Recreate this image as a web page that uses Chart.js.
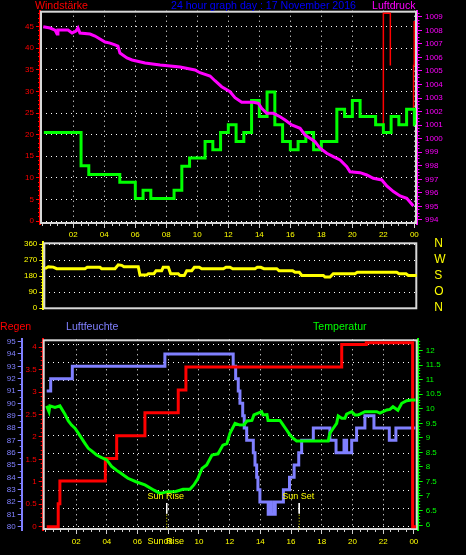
<!DOCTYPE html>
<html>
<head>
<meta charset="utf-8">
<script src="https://cdn.jsdelivr.net/npm/chart.js@4.4.0/dist/chart.umd.min.js"></script>
<style>
html, body { margin: 0; padding: 0; background: #000; }
body { width: 466px; height: 555px; position: relative; overflow: hidden; font-family: "Liberation Sans", Arial, sans-serif; }
canvas { position: absolute; left: 0; }
.t { position: absolute; font-size: 10.6px; line-height: 12px; white-space: nowrap; z-index: 5; }
</style>
</head>
<body>
<canvas id="c1" width="466" height="240" style="top:0"></canvas>
<canvas id="c2" width="466" height="90" style="top:232px"></canvas>
<canvas id="c3" width="466" height="235" style="top:320px"></canvas>

<div class="t" style="left:35px;top:-1px;color:#ff0000">Windstärke</div>
<div class="t" style="left:171px;top:-1px;color:#0000ff">24 hour graph day : 17 November 2016</div>
<div class="t" style="left:372px;top:-1px;color:#ff00ff">Luftdruck</div>
<div class="t" style="left:0;top:320px;color:#ff0000">Regen</div>
<div class="t" style="left:66px;top:320px;color:#8080ff">Luftfeuchte</div>
<div class="t" style="left:313px;top:320px;color:#00ff00">Temperatur</div>

<script>
// hours since midnight, 24 = following midnight
const HOURS = [2, 4, 6, 8, 10, 12, 14, 16, 18, 20, 22, 24];
const HOUR_LABELS = ['02', '04', '06', '08', '10', '12', '14', '16', '18', '20', '22', '00'];

// wind speed (km/h), half-hour means, step changes
const WIND_H = [0.1, 2.5, 3, 5, 6, 6.5, 7, 8.5, 9, 9.5, 10.5, 11, 11.5, 12, 12.5, 13, 13.5, 14, 14.5, 15, 15.5, 16, 16.5, 17, 17.5, 18, 19, 19.5, 20, 20.5, 21.5, 22, 22.5, 23, 23.5, 24, 24.05];
const WIND_V = [20.5, 12.8, 10.8, 9.0, 5.2, 7.1, 5.2, 7.1, 12.7, 14.6, 18.4, 16.5, 20.5, 22.3, 18.4, 20.5, 27.9, 24.2, 29.9, 22.3, 18.4, 16.5, 18.4, 20.5, 16.5, 18.4, 25.9, 24.2, 27.9, 24.2, 22.3, 20.5, 24.2, 22.3, 25.9, 22.3, 22.3];

// gust peaks (km/h)
const GUST_H = [22.0, 22.0, 22.45, 22.45, 22.46, 23.95, 23.95, 23.99, 23.99];
const GUST_V = [22.2, 48.1, 48.1, 36, null, 26, 36, 36, 46.3];

// air pressure (hPa)
const PRESS_H = [0.06, 0.5, 0.82, 0.95, 1.01, 1.66, 1.92, 2.17, 2.3, 2.43, 3.08, 3.4, 3.72, 4.05, 4.37, 4.69, 4.88, 5.01, 5.46, 5.79, 6.63, 7.6, 8.89, 9.85, 10.17, 10.82, 11.14, 11.57, 12.11, 12.43, 12.86, 13.61, 13.94, 14.15, 14.48, 14.9, 15.34, 15.66, 16.09, 16.63, 16.95, 17.27, 17.59, 17.92, 18.35, 18.77, 19.21, 19.64, 19.85, 20.5, 20.93, 21.35, 21.9, 22.22, 22.65, 23.08, 23.51, 23.94];
const PRESS_V = [1008.27, 1008.17, 1008.02, 1007.73, 1008.02, 1008.02, 1007.8, 1007.95, 1008.17, 1007.8, 1007.73, 1007.58, 1007.36, 1007.14, 1007.06, 1006.92, 1006.84, 1006.32, 1005.96, 1005.81, 1005.59, 1005.44, 1005.29, 1005.07, 1004.87, 1004.63, 1004.28, 1003.84, 1003.47, 1003.03, 1002.69, 1002.69, 1002.61, 1002.24, 1001.87, 1001.87, 1001.62, 1001.38, 1001.01, 1000.77, 1000.27, 1000.03, 999.78, 999.29, 998.92, 998.67, 998.43, 997.93, 997.56, 997.49, 997.32, 997.08, 996.95, 996.51, 996.09, 995.77, 995.6, 995.03];

// wind direction (degrees)
const DIR_H = [0.17, 0.39, 0.71, 0.93, 2.75, 2.9, 3.72, 3.83, 4.69, 4.9, 5.12, 5.27, 6.19, 6.3, 6.73, 6.84, 7.2, 7.34, 7.7, 7.8, 8.13, 8.28, 8.77, 8.88, 9.16, 9.32, 9.64, 9.81, 10.13, 10.28, 11.68, 11.85, 12.11, 12.28, 13.72, 13.87, 14.09, 14.3, 15.12, 15.27, 16.15, 16.3, 16.58, 16.74, 18.13, 18.24, 18.56, 18.77, 20.17, 20.32, 22.86, 23.01, 23.46, 23.61, 24.15];
const DIR_V = [221, 232, 230, 221, 221, 229, 229, 221, 221, 243, 240, 232, 232, 185, 185, 193, 193, 210, 210, 229, 229, 193, 193, 183, 183, 210, 210, 229, 229, 221, 221, 229, 229, 221, 221, 229, 229, 221, 221, 210, 210, 201, 201, 183, 183, 174, 174, 193, 193, 201, 201, 193, 193, 183, 183];

// rain (mm), step changes
const RAIN_H = [0.08, 0.83, 0.94, 3.9, 4.64, 6.48, 8.65, 9.15, 19.3, 20.9, 23.92, 24.15];
const RAIN_V = [0, 0.51, 1.02, 1.52, 2.03, 2.54, 3.05, 3.56, 4.06, 4.1, 0, 0];

// humidity (%), step changes
const HUM_H = [0.08, 0.34, 1.75, 7.78, 12.23, 12.39, 12.56, 12.67, 12.85, 12.95, 13.11, 13.54, 13.65, 13.76, 13.84, 13.97, 14.51, 14.6, 14.66, 14.86, 14.9, 14.97, 15.5, 15.9, 16.2, 16.5, 16.69, 17.45, 18.53, 18.93, 19.45, 19.62, 19.95, 20.27, 20.81, 21.4, 22.4, 22.83, 24.1];
const HUM_V = [91, 92, 93, 94, 93, 92, 91, 90, 89, 88, 87, 86, 85, 84, 83, 82, 81, 82, 81, 82, 81, 82, 83, 84, 85, 86, 87, 88, 87, 86, 87, 86, 87, 88, 89, 88, 87, 88, 88];

// temperature (°C)
const TEMP_H = [0.08, 0.23, 0.29, 0.62, 0.94, 1.27, 1.49, 1.7, 1.92, 2.14, 2.36, 2.57, 2.79, 3.01, 3.33, 3.66, 3.99, 4.31, 4.64, 4.92, 5.37, 5.9, 6.48, 7.07, 7.46, 7.98, 8.44, 8.96, 9.41, 9.67, 9.93, 10.2, 10.5, 10.85, 11.24, 11.56, 11.82, 12.02, 12.35, 12.67, 12.93, 13.13, 13.45, 13.58, 14.08, 14.17, 14.43, 14.5, 15.28, 15.49, 15.71, 15.93, 16.14, 16.36, 18.42, 18.53, 18.75, 18.97, 19.07, 19.3, 19.51, 19.62, 19.95, 20.16, 20.36, 20.49, 20.81, 21.58, 21.79, 22.23, 22.44, 22.64, 22.96, 23.21, 23.53, 23.86, 24.12];
const TEMP_V = [10.1, 9.9, 10.1, 10.05, 10.1, 9.81, 9.58, 9.44, 9.33, 9.16, 8.98, 8.81, 8.64, 8.55, 8.41, 8.32, 8.24, 8.02, 7.88, 7.78, 7.61, 7.49, 7.38, 7.2, 7.09, 7.15, 7.15, 7.23, 7.23, 7.38, 7.6, 7.95, 8.07, 8.41, 8.45, 8.75, 8.8, 9.16, 9.5, 9.44, 9.45, 9.58, 9.6, 9.79, 9.9, 9.79, 9.8, 9.6, 9.6, 9.44, 9.27, 9.1, 8.98, 8.89, 8.89, 9.16, 9.33, 9.5, 9.75, 9.67, 9.67, 9.82, 9.9, 9.79, 9.79, 9.82, 9.9, 9.9, 9.85, 9.96, 9.98, 10.07, 9.95, 10.19, 10.28, 10.3, 10.3];

const SUN_H = [7.9, 16.53];
const SUN_LABELS = ['Sun Rise', 'Sun Set'];

// axis ticks
const WIND_TICKS = [0, 5, 10, 15, 20, 25, 30, 35, 40, 45];
const PRESS_TICKS = [994, 995, 996, 997, 998, 999, 1000, 1001, 1002, 1003, 1004, 1005, 1006, 1007, 1008, 1009];
const DIR_TICKS = [0, 90, 180, 270, 360];
const DIR_LABELS = ['N', 'O', 'S', 'W', 'N'];
const RAIN_TICKS = [0, 0.5, 1, 1.5, 2, 2.5, 3, 3.5, 4];
const HUM_TICKS = [80, 81, 82, 83, 84, 85, 86, 87, 88, 89, 90, 91, 92, 93, 94, 95];
const TEMP_TICKS = [6, 6.5, 7, 7.5, 8, 8.5, 9, 9.5, 10, 10.5, 11, 11.5, 12];
const GRID_TICKS = [0, 1, 2, 3, 4, 5, 6, 7, 8, 9, 10];

const FONT = { family: '"Liberation Sans", Arial, sans-serif', size: 8 };
const steps = (a, b, s) => { const r = []; for (let v = a; v <= b + 1e-9; v += s) r.push(+v.toFixed(3)); return r; };
const pts = (xs, ys) => xs.map((x, i) => ({ x, y: ys[i] }));

const frame = {
    id: 'frame',
    beforeDatasetsDraw(chart) {
        const a = chart.chartArea, c = chart.ctx;
        c.save();
        c.strokeStyle = '#d8d8d8';
        c.lineWidth = 2;
        c.strokeRect(a.left + 1, a.top + 1, a.right - a.left - 2, a.bottom - a.top - 2);
        c.restore();
    }
};

const xAxis = (min, max, height, show, pad = 2) => ({
    type: 'linear', position: 'bottom', min, max, display: show, weight: 0,
    afterBuildTicks: s => { s.ticks = HOURS.map(v => ({ value: v })); },
    afterFit: s => { s.height = height; },
    ticks: { color: '#ffff00', font: FONT, padding: pad, maxRotation: 0, autoSkip: false, callback: (v, i) => HOUR_LABELS[i] },
    grid: { color: '#ffffff', tickColor: '#d0d0d0', tickLength: 4 },
    border: { display: false, dash: [1, 4] }
});

const yAxis = (pos, min, max, ticks, color, size, o = {}) => ({
    type: 'linear', position: pos, min, max, weight: o.weight || 0,
    afterBuildTicks: s => { s.ticks = ticks.map(v => ({ value: v })); },
    afterFit: s => { s.width = size; },
    ticks: { color, font: o.font || FONT, padding: o.pad ?? 2, autoSkip: false, callback: (v, i) => o.labels ? o.labels[i] : String(v) },
    grid: { drawOnChartArea: !!o.grid, color: '#ffffff', tickColor: o.tickColor || color, tickLength: o.tl ?? 4 },
    border: { display: !!o.line, color, width: 2, dash: [1, 4] }
});

const minorAxis = (pos, min, max, ticks, color, len, weight = -1) => {
    const horiz = pos === 'bottom' || pos === 'top';
    return {
        type: 'linear', position: pos, min, max, weight,
        afterBuildTicks: s => { s.ticks = ticks.map(v => ({ value: v })); },
        afterFit: s => { if (horiz) s.height = 0; else s.width = 0; },
        ticks: { display: false },
        grid: { drawOnChartArea: false, tickColor: color, tickLength: len },
        border: { display: false }
    };
};

const base = padding => ({
    responsive: false, animation: false, devicePixelRatio: 1,
    layout: { padding },
    plugins: { legend: { display: false }, tooltip: { enabled: false } },
    elements: { point: { radius: 0 }, line: { tension: 0, borderWidth: 3 } }
});

// ---- top: wind speed + pressure ----
new Chart(document.getElementById('c1'), {
    type: 'line',
    data: {
        datasets: [
            { data: pts(PRESS_H, PRESS_V), borderColor: '#ff00ff', yAxisID: 'yp', order: 0 },
            { data: pts(WIND_H, WIND_V), borderColor: '#00ff00', stepped: true, yAxisID: 'y', order: 1 },
            { data: pts(GUST_H, GUST_V), borderColor: '#ff0000', borderWidth: 1.5, spanGaps: false, yAxisID: 'y', order: 2 }
        ]
    },
    options: Object.assign(base({ top: 10.7, left: 0, right: 0, bottom: 0 }), {
        scales: {
            x: xAxis(-0.148, 24.17, 16, true),
            xm: minorAxis('bottom', -0.148, 24.17, steps(0, 24, 0.5), '#d0d0d0', 2),
            y: yAxis('left', -0.69, 48.7, WIND_TICKS, '#ff0000', 40, { grid: true, line: true }),
            ym: minorAxis('left', -0.69, 48.7, steps(0, 48, 1), '#ff0000', 2),
            yp: yAxis('right', 993.7, 1009.45, PRESS_TICKS, '#ff00ff', 49, { line: true, tl: 5, pad: 3 }),
            ypm: minorAxis('right', 993.7, 1009.45, steps(994, 1009.25, 0.25), '#ff00ff', 2.5)
        }
    }),
    plugins: [frame]
});

// ---- middle: wind direction ----
new Chart(document.getElementById('c2'), {
    type: 'line',
    data: { datasets: [{ data: pts(DIR_H, DIR_V), borderColor: '#ffff00', yAxisID: 'y' }] },
    options: Object.assign(base({ top: 10.3, left: 0, right: 0, bottom: 12.7 }), {
        scales: {
            x: xAxis(0.065, 24.19, 0, false),
            y: yAxis('left', -7.3, 369.6, DIR_TICKS, '#ffff00', 43.3, { grid: true, line: true }),
            ym: minorAxis('left', -7.3, 369.6, steps(0, 360, 18), '#ffff00', 2),
            yd: yAxis('right', -7.3, 369.6, DIR_TICKS, '#ffff00', 48.7, { labels: DIR_LABELS, tl: 17, pad: 0, tickColor: 'rgba(0,0,0,0)', font: { family: FONT.family, size: 12 } })
        }
    }),
    plugins: [frame]
});

// ---- bottom: rain, humidity, temperature ----
const sunText = {
    id: 'sunText',
    afterDatasetsDraw(chart) {
        const { ctx, chartArea } = chart, x = chart.scales.x;
        ctx.save();
        ctx.fillStyle = '#ffff00';
        ctx.font = '9px "Liberation Sans", Arial, sans-serif';
        ctx.textAlign = 'center';
        ctx.textBaseline = 'middle';
        SUN_H.forEach((h, i) => ctx.fillText(SUN_LABELS[i], x.getPixelForValue(h) - 1, chartArea.bottom - 33));
        ctx.fillText(SUN_LABELS[0], x.getPixelForValue(SUN_H[0]) - 1, chartArea.bottom + 12);
        ctx.restore();
    }
};

const sunMarks = [];
SUN_H.forEach(h => {
    sunMarks.push({ data: [{ x: h, y: 1.3 }, { x: h, y: 0.72 }], borderColor: '#ffffff', borderWidth: 1, yAxisID: 'g', order: 3 });
    sunMarks.push({ data: [{ x: h, y: 0.66 }, { x: h, y: -0.18 }], borderColor: '#ffff00', borderWidth: 1, borderDash: [1, 2], yAxisID: 'g', order: 3 });
});

new Chart(document.getElementById('c3'), {
    type: 'line',
    data: {
        datasets: [
            { data: pts(TEMP_H, TEMP_V), borderColor: '#00ff00', yAxisID: 'yt', order: 0 },
            { data: pts(RAIN_H, RAIN_V), borderColor: '#ff0000', stepped: true, yAxisID: 'yr', order: 1 },
            { data: pts(HUM_H, HUM_V), borderColor: '#8080ff', stepped: true, yAxisID: 'yh', order: 2 },
            ...sunMarks
        ]
    },
    options: Object.assign(base({ top: 19.3, left: 0, right: 0, bottom: 0 }), {
        scales: {
            x: xAxis(-0.18, 24.25, 25, true, 3),
            xm: minorAxis('bottom', -0.18, 24.25, steps(0, 24, 0.5), '#d0d0d0', 2),
            g: {
                type: 'linear', position: 'left', min: -0.18, max: 10.27, weight: -3,
                afterBuildTicks: s => { s.ticks = GRID_TICKS.map(v => ({ value: v })); },
                afterFit: s => { s.width = 0; },
                ticks: { display: false },
                grid: { color: '#ffffff', drawTicks: false },
                border: { display: false, dash: [1, 4] }
            },
            yrm: minorAxis('left', -0.074, 4.178, steps(0, 4.1, 0.1), '#ff0000', 2, -2),
            yr: yAxis('left', -0.074, 4.178, RAIN_TICKS, '#ff0000', 21, { line: true, weight: -1 }),
            yhm: minorAxis('left', 79.73, 95.19, steps(80, 95, 0.5), '#8080ff', 2, 0),
            yh: yAxis('left', 79.73, 95.19, HUM_TICKS, '#8080ff', 21.7, { line: true, weight: 1 }),
            yt: yAxis('right', 5.83, 12.39, TEMP_TICKS, '#00ff00', 48.3, { line: true, tl: 5, pad: 3 }),
            ytm: minorAxis('right', 5.83, 12.39, steps(6, 12.3, 0.1), '#00ff00', 2.5)
        }
    }),
    plugins: [frame, sunText]
});
</script>
</body>
</html>
